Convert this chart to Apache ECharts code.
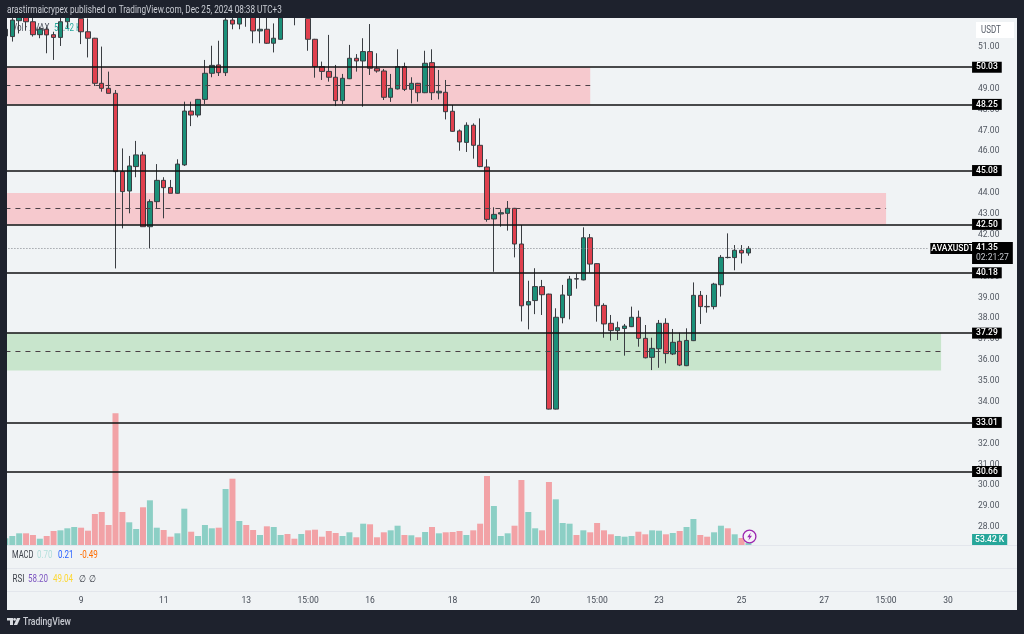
<!DOCTYPE html>
<html>
<head>
<meta charset="utf-8">
<title>AVAXUSDT</title>
<script src="https://cdn.jsdelivr.net/npm/echarts@6/dist/echarts.min.js"></script>
<style>
  html, body { margin: 0; padding: 0; background: #1e222d; }
  #chart { width: 1024px; height: 634px; }
</style>
</head>
<body>
<div id="chart"></div>
<script>
// 4h candles, index 0 is the one cut by the left edge
const opens = [51.53,51.50,52.26,52.45,52.21,51.59,51.85,51.59,51.46,52.21,52.45,52.37,51.73,51.42,49.26,49.02,48.78,45.03,44.10,45.27,45.83,42.39,43.59,44.61,44.27,43.99,45.35,47.93,47.74,48.49,49.74,50.14,49.77,52.29,52.10,52.90,52.45,51.77,51.85,51.18,51.37,53.00,53.00,52.65,52.37,51.37,50.06,49.83,49.55,48.43,49.48,50.46,50.33,50.78,49.98,49.85,48.59,48.99,50.06,48.97,49.26,48.81,50.25,48.80,48.83,47.92,46.98,46.43,47.25,46.29,45.25,42.76,43.00,43.03,43.27,41.56,38.64,38.85,39.52,39.16,33.65,38.03,39.10,39.90,39.84,41.86,40.62,38.62,37.76,37.41,37.51,37.60,38.05,37.04,36.13,36.54,37.76,36.29,36.90,35.73,36.93,39.10,38.57,38.56,39.61,40.92,40.91,41.26,41.13];
const closes = [51.85,52.29,52.60,52.21,51.59,51.85,51.58,51.46,52.21,52.50,52.70,51.73,51.42,49.26,49.02,48.78,45.03,44.07,45.30,45.83,42.39,43.59,44.61,44.26,43.99,45.39,47.93,47.74,48.49,49.74,50.12,49.77,52.29,52.10,52.50,52.50,51.77,51.85,51.18,51.42,52.40,52.60,52.60,52.95,51.37,50.06,49.83,49.55,48.43,49.50,50.46,50.33,50.78,49.98,49.85,48.59,49.02,50.06,48.97,49.26,48.81,50.22,48.81,48.88,47.90,46.96,46.45,47.25,46.29,45.27,42.74,42.98,43.06,43.27,41.56,38.60,38.80,39.52,39.13,33.65,38.05,39.12,39.88,39.88,41.86,40.60,38.60,37.73,37.41,37.55,37.63,38.05,37.04,36.11,36.56,37.76,36.31,36.85,35.76,36.94,39.10,38.56,38.55,39.64,40.92,40.91,41.26,41.13,41.35];
const lows = [51.40,51.26,51.65,51.78,51.50,51.42,50.70,50.38,51.05,51.90,52.40,51.14,50.50,49.13,48.86,48.78,40.39,42.31,43.03,44.76,42.39,41.35,43.27,42.79,43.99,43.97,45.30,47.21,47.63,48.27,49.55,49.61,49.61,51.85,51.85,51.97,51.18,51.18,51.15,50.74,51.35,52.50,52.04,52.60,50.82,49.53,49.42,49.34,48.17,48.27,49.46,49.82,48.14,49.66,49.77,48.46,48.37,48.96,48.89,48.30,48.38,48.79,48.46,48.49,47.53,46.94,46.03,45.97,45.65,45.24,42.63,40.23,42.39,42.20,40.92,37.85,37.47,38.20,38.16,33.63,33.63,37.76,37.95,39.42,39.82,40.19,37.84,37.07,36.93,36.96,36.21,37.58,36.64,36.08,35.52,35.63,35.84,36.24,35.71,35.71,36.91,37.73,38.27,38.43,39.04,40.87,40.30,40.63,41.00];
const highs = [52.00,52.50,52.80,52.60,52.40,51.97,51.97,51.73,52.50,52.70,52.90,52.60,52.37,51.44,51.02,49.82,48.94,46.14,45.78,46.50,45.98,43.70,45.39,44.76,44.63,45.62,48.38,48.38,48.51,50.38,51.06,51.30,52.50,52.50,52.70,53.00,52.60,52.50,52.50,52.13,52.60,53.00,53.00,53.00,52.60,51.39,50.30,51.58,50.14,49.71,51.10,50.66,51.42,52.10,50.70,49.95,49.71,50.89,50.25,49.55,49.28,50.82,50.89,49.90,49.42,48.22,47.05,47.39,47.34,47.58,45.62,43.32,43.22,43.62,43.29,42.47,39.80,40.40,39.84,39.18,38.48,39.60,40.03,40.15,42.36,42.04,40.64,38.72,38.16,37.84,37.73,38.56,38.37,37.68,37.07,37.92,38.00,37.49,37.31,37.52,39.72,39.31,39.12,39.70,41.03,42.07,41.51,41.51,41.46];
// volume in thousands
const volumes = [179,240,312,312,267,168,240,374,392,446,481,462,382,828,881,534,3516,881,606,427,1007,1193,462,400,222,312,969,355,240,534,446,462,1495,1770,641,534,400,267,499,481,267,294,168,294,392,409,222,374,320,240,339,206,569,553,206,339,392,515,267,259,206,347,481,312,339,347,374,267,392,569,1842,1041,240,312,515,1736,881,446,392,1682,1220,587,569,267,392,339,587,392,286,240,222,240,355,286,392,382,286,320,374,481,694,267,222,339,515,446,286,187,53.42];

const levels = [50.03, 48.25, 45.08, 42.5, 40.18, 37.29, 33.01, 30.66];
const zones = [[50.03, 48.25, 85], [44.0, 42.5, 128], [37.29, 35.5, 136]];
const zoneMids = [49.15, 43.28, 36.4];
const zoneColors = ['#f6c9ce', '#f6c9ce', '#c8e5cc'];
const lastPrice = 41.35;
const lastVolume = 53.42;
const hiddenTicks = [27, 52, 53];

const barCount = 141;
const tickIndex = [11, 23, 35, 44, 53, 65, 77, 86, 95, 107, 119, 128, 137];
const tickLabels = ['9', '11', '13', '15:00', '16', '18', '20', '15:00', '23', '25', '27', '15:00', '30'];

const categories = new Array(barCount).fill('');
tickIndex.forEach((idx, i) => { categories[idx] = tickLabels[i]; });

const FONT = 'Roboto, sans-serif';
const SMALL = 8.5; // tick and tag size, the original face is narrow
const DARK = '#1e222d';
const RED = '#e0404e';
const GREEN = '#1b9079';
const PANEL = '#f0f3f5';

const candleData = opens.map((o, i) => [o, closes[i], lows[i], highs[i]]);
const volumeData = volumes.map((v, i) => ({
  value: v,
  itemStyle: { color: closes[i] >= opens[i] ? '#8ccfc5' : '#f2a2a6' }
}));

function tag(text) {
  return {
    show: true, position: 'end', distance: 0, formatter: text,
    backgroundColor: '#000', color: '#fff', fontFamily: FONT, fontSize: SMALL, fontWeight: 500,
    lineHeight: 10, padding: [1, 4, 0, 4]
  };
}

const levelLines = levels.map(v => ({
  yAxis: v,
  lineStyle: { color: '#111', width: 1.6, type: 'solid' },
  label: tag(v.toFixed(2))
}));

const midLines = zoneMids.map((v, i) => [
  { coord: [0, v], lineStyle: { color: '#4a4046', width: 1, type: [5, 5] }, label: { show: false } },
  { coord: [zones[i][2], v] }
]);

// dark frame and the texts that TradingView prints around the chart
const frame = [
  { type: 'rect', z: -1, shape: { x: 7, y: 18, width: 1010, height: 592 }, style: { fill: PANEL } },
  { type: 'line', z: 1, shape: { x1: 7, y1: 545.5, x2: 1017, y2: 545.5 }, style: { stroke: '#e3e6ec' } },
  { type: 'line', z: 1, shape: { x1: 7, y1: 568.5, x2: 1017, y2: 568.5 }, style: { stroke: '#e3e6ec' } },
  { type: 'line', z: 1, shape: { x1: 7, y1: 591.5, x2: 1017, y2: 591.5 }, style: { stroke: '#e3e6ec' } },
  { type: 'rect', z: 100, shape: { x: 0, y: 0, width: 1024, height: 18 }, style: { fill: DARK } },
  { type: 'rect', z: 100, shape: { x: 0, y: 610, width: 1024, height: 24 }, style: { fill: DARK } },
  { type: 'rect', z: 100, shape: { x: 0, y: 0, width: 7, height: 634 }, style: { fill: DARK } },
  { type: 'rect', z: 100, shape: { x: 1017, y: 0, width: 7, height: 634 }, style: { fill: DARK } },
  { type: 'rect', z: 101, shape: { x: 976, y: 22, width: 38, height: 16 }, style: { fill: '#fff' } }
];

// squeezed with scaleX because no narrow font is installed
function label(x, y, text, color, sx, weight, z) {
  return {
    type: 'text', z: z || 102, x, y, scaleX: sx || 0.8,
    style: { text, fill: color, font: (weight || 400) + ' 10px ' + FONT, textVerticalAlign: 'middle' }
  };
}

const texts = [
  label(7, 10, 'arastirmaicrypex published on TradingView.com, Dec 25, 2024 08:38 UTC+3', '#c9ccd3', 0.82),
  label(981, 30, 'USDT', '#555b66', 0.8),
  label(12, 555, 'MACD', '#3b3f48', 0.76),
  label(37, 555, '0.70', '#b2dfdb'),
  label(58, 555, '0.21', '#2962ff'),
  label(80, 555, '-0.49', '#ff6d00'),
  label(12.5, 579, 'RSI', '#3b3f48'),
  label(28, 579, '58.20', '#7e57c2'),
  label(53, 579, '49.04', '#fdd835'),
  label(79, 579, '∅', '#3b3f48'),
  label(89, 579, '∅', '#3b3f48'),
  label(23, 622, 'TradingView', '#c9ccd3', 0.86, 500),
  label(12, 28, 'Vol · AVAX', '#4a4f5a', 0.8, 400, 1),
  label(54, 28, '53.42 K', '#26a69a', 0.8, 400, 1)
];

const icons = [
  // TradingView mark
  { type: 'polygon', z: 102, shape: { points: [[7, 618], [13, 618], [13, 625], [10, 625], [10, 620.6], [7, 620.6]] }, style: { fill: '#d8dbe0' } },
  { type: 'circle', z: 102, shape: { cx: 14.6, cy: 619.4, r: 1.4 }, style: { fill: '#d8dbe0' } },
  { type: 'polygon', z: 102, shape: { points: [[17, 618], [20.4, 618], [17.2, 625], [13.8, 625]] }, style: { fill: '#d8dbe0' } },
  // publish time marker
  { type: 'circle', z: 50, shape: { cx: 749.5, cy: 536.5, r: 6.4 }, style: { fill: '#f5f2f8', stroke: '#9c27b0', lineWidth: 1.3 } },
  { type: 'polygon', z: 51, shape: { points: [[750.8, 532.6], [747.2, 537.2], [749.4, 537.2], [748.4, 540.4], [752, 535.8], [749.8, 535.8]] }, style: { fill: '#9c27b0' } }
];

const option = {
  animation: false,
  backgroundColor: DARK,
  textStyle: { fontFamily: FONT },
  graphic: { elements: frame.concat(texts, icons) },
  grid: [
    { left: 1.98, top: 5.26, width: 970.08, height: 542.62 },
    { left: 1.98, top: 405, width: 970.08, height: 140 }
  ],
  xAxis: [
    { type: 'category', gridIndex: 0, data: categories, show: false },
    {
      type: 'category', gridIndex: 1, data: categories,
      axisLine: { show: false }, axisTick: { show: false },
      axisLabel: { interval: 0, margin: 51, color: '#444a55', fontSize: SMALL, fontFamily: FONT, hideOverlap: false }
    }
  ],
  yAxis: [
    {
      type: 'value', gridIndex: 0, position: 'right', min: 27, max: 53, interval: 1, scale: true,
      axisLine: { show: false }, axisTick: { show: false }, splitLine: { show: false },
      axisLabel: {
        margin: 6, color: '#4f555f', fontSize: SMALL, fontFamily: FONT, padding: [2, 0, 0, 0],
        formatter: v => (hiddenTicks.includes(v) ? '' : v.toFixed(2))
      }
    },
    {
      type: 'value', gridIndex: 1, position: 'right', min: 0, max: 3738, show: false
    }
  ],
  series: [
    {
      name: 'Zones', type: 'line', xAxisIndex: 0, yAxisIndex: 0, data: [], z: 1, silent: true,
      markArea: {
        silent: true,
        label: { show: false },
        data: zones.map((z, i) => [
          { coord: [0, z[0]], itemStyle: { color: zoneColors[i] } },
          { coord: [z[2], z[1]] }
        ])
      }
    },
    {
      name: 'Volume', type: 'bar', xAxisIndex: 1, yAxisIndex: 1, data: volumeData, barWidth: 6, z: 1,
      markLine: {
        silent: true, symbol: 'none', animation: false,
        data: [{
          yAxis: lastVolume,
          lineStyle: { color: 'transparent', width: 1 },
          label: {
            show: true, position: 'end', distance: 0, formatter: '53.42 K', offset: [0, -3.5],
            backgroundColor: '#26a69a', color: '#fff', fontFamily: FONT, fontSize: SMALL, fontWeight: 500,
            lineHeight: 10, padding: [1, 3, 0, 3]
          }
        }]
      }
    },
    {
      name: 'AVAXUSDT', type: 'candlestick', xAxisIndex: 0, yAxisIndex: 0, data: candleData, barWidth: 5, z: 3,
      itemStyle: { color: GREEN, color0: RED, borderColor: '#3a3d42', borderColor0: '#3a3d42', borderWidth: 1 }
    },
    {
      name: 'Levels', type: 'line', xAxisIndex: 0, yAxisIndex: 0, data: [], z: 5, silent: true,
      markLine: {
        silent: true, symbol: 'none', animation: false,
        data: levelLines.concat(midLines, [
          [
            { coord: [0, lastPrice], lineStyle: { color: '#7d8088', width: 1, type: [1, 2] },
              label: { show: true, position: 'end', distance: 3, formatter: 'AVAXUSDT', backgroundColor: '#000', color: '#fff',
                fontFamily: FONT, fontSize: SMALL, fontWeight: 500, lineHeight: 10, padding: [1, 1, 0, 1] } },
            { coord: [134, lastPrice] }
          ],
          {
            yAxis: lastPrice, lineStyle: { color: 'transparent', width: 1 },
            label: {
              show: true, position: 'end', distance: 0, offset: [0, 4.5],
              formatter: '{a|41.35}\n{b|02:21:27}', backgroundColor: '#000', padding: [1, 4, 1, 4],
              rich: {
                a: { color: '#fff', fontFamily: FONT, fontSize: SMALL, fontWeight: 500, lineHeight: 10 },
                b: { color: '#c4c6cc', fontFamily: FONT, fontSize: SMALL, lineHeight: 10 }
              }
            }
          }
        ])
      }
    }
  ]
};

const chart = echarts.init(document.getElementById('chart'), null, { renderer: 'canvas' });
chart.setOption(option);
window.addEventListener('resize', () => chart.resize());
</script>
</body>
</html>
